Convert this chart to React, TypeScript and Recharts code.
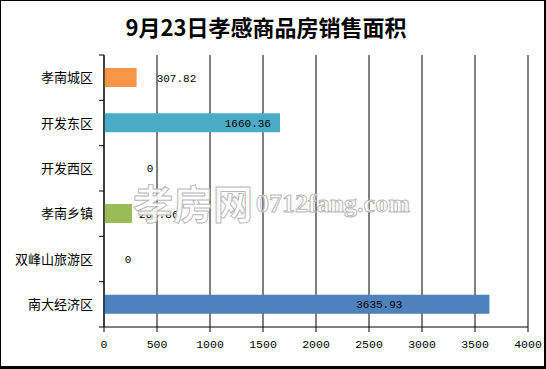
import React from 'react';
import { BarChart, Bar, XAxis, YAxis, CartesianGrid, Cell, LabelList } from 'recharts';

const title = '9月23日孝感商品房销售面积';
const categories = ['孝南城区', '开发东区', '开发西区', '孝南乡镇', '双峰山旅游区', '南大经济区'];
const areas = [307.82, 1660.36, 0, 263.86, 0, 3635.93];
const barColors = ['#F79646', '#4BACC6', '#8064A2', '#9BBB59', '#C0504D', '#4F81BD'];
const xTicks = [0, 500, 1000, 1500, 2000, 2500, 3000, 3500, 4000];
const watermarkCn = '孝房网';
const watermarkEn = '0712fang.com';

// label placement relative to the end of each bar (style only)
const labelPlacement: { anchor: 'start' | 'middle' | 'end'; dx: number }[] = [
  { anchor: 'start', dx: 20 },
  { anchor: 'end', dx: -9 },
  { anchor: 'middle', dx: 46 },
  { anchor: 'start', dx: 7 },
  { anchor: 'middle', dx: 24 },
  { anchor: 'end', dx: -87 },
];

const data = categories.map((name, i) => ({ name, value: areas[i] }));

const W = 546;
const H = 369;
const MARGIN = { top: 55, right: 18, bottom: 12, left: 0 };
const X_AXIS_H = 30;
const PLOT_H = H - MARGIN.top - MARGIN.bottom - X_AXIS_H;
const BAND = PLOT_H / categories.length;
const MONO = '"Liberation Mono", "DejaVu Sans Mono", monospace';
const CJK = '"Noto Sans CJK SC", sans-serif';

const YTick = (props: any) => {
  const { x, y, payload, index } = props;
  const ax = x + 5;
  const isLast = index === categories.length - 1;
  return (
    <g>
      <text x={x - 1} y={y} dy={4.5} textAnchor="end" fontSize={13} fontFamily={CJK} fill="#000">
        {payload.value}
      </text>
      <line x1={ax} x2={ax + 5} y1={y - BAND / 2} y2={y - BAND / 2} stroke="#000" />
      {isLast && <line x1={ax} x2={ax + 5} y1={y + BAND / 2} y2={y + BAND / 2} stroke="#000" />}
    </g>
  );
};

const renderLabel = (props: any) => {
  const { x, y, width, height, value } = props;
  const i = categories.indexOf(String(value));
  const p = labelPlacement[i] || { anchor: 'start', dx: 5 };
  const v = areas[i] ?? 0;
  const end = Number(x) + Number(width);
  return (
    <text
      x={end + p.dx}
      y={Number(y) + Number(height) / 2}
      dy={4}
      textAnchor={p.anchor}
      fontSize={11}
      fontFamily={MONO}
      fill="#000"
    >
      {v === 0 ? '0' : v.toFixed(2)}
    </text>
  );
};

export default function App() {
  return (
    <div style={{ position: 'fixed', left: 0, top: 0, width: W, height: H, background: '#fff' }}>
      <BarChart
        width={W}
        height={H}
        data={data}
        layout="vertical"
        margin={MARGIN}
        barSize={19}
      >
        <CartesianGrid horizontal={false} vertical={true} stroke="#000" />
        <XAxis
          type="number"
          domain={[0, 4000]}
          ticks={xTicks}
          interval={0}
          height={X_AXIS_H}
          stroke="#000"
          tickSize={5}
          tickMargin={8}
          tick={{ fill: '#000', fontSize: 11.5, fontFamily: MONO }}
          axisLine={{ stroke: '#000' }}
          tickLine={{ stroke: '#000' }}
        />
        <YAxis
          type="category"
          dataKey="name"
          width={104}
          stroke="#000"
          tickLine={false}
          tickSize={5}
          tickMargin={5}
          axisLine={{ stroke: '#000' }}
          tick={<YTick />}
          interval={0}
        />
        <Bar dataKey="value" isAnimationActive={false} minPointSize={0.01}>
          {data.map((d, i) => (
            <Cell key={d.name} fill={barColors[i]} />
          ))}
          <LabelList dataKey="name" content={renderLabel} />
        </Bar>
      </BarChart>
      <svg
        width={W}
        height={H}
        style={{ position: 'absolute', left: 0, top: 0, pointerEvents: 'none' }}
      >
        <text x={266} y={36} textAnchor="middle" fontSize={22} fontWeight="bold" fontFamily={CJK} fill="#000">
          {title}
        </text>
        <text x={133} y={219} fontSize={40} fontWeight="bold" fontFamily={CJK} fill="#fff" fillOpacity={0.85} stroke="#b8b8b8" strokeWidth={1}>
          {watermarkCn}
        </text>
        <text x={256} y={212} fontSize={26} fontWeight="bold" fontFamily='"Liberation Serif", serif' fill="#fff" fillOpacity={0.85} stroke="#b8b8b8" strokeWidth={1}>
          {watermarkEn}
        </text>
      </svg>
      <div
        style={{
          position: 'absolute',
          left: 0,
          top: 0,
          width: W,
          height: H,
          boxSizing: 'border-box',
          borderLeft: '1px solid #000',
          borderTop: '1px solid #000',
          borderRight: '2px solid #000',
          borderBottom: '3px solid #000',
          pointerEvents: 'none',
        }}
      />
    </div>
  );
}
